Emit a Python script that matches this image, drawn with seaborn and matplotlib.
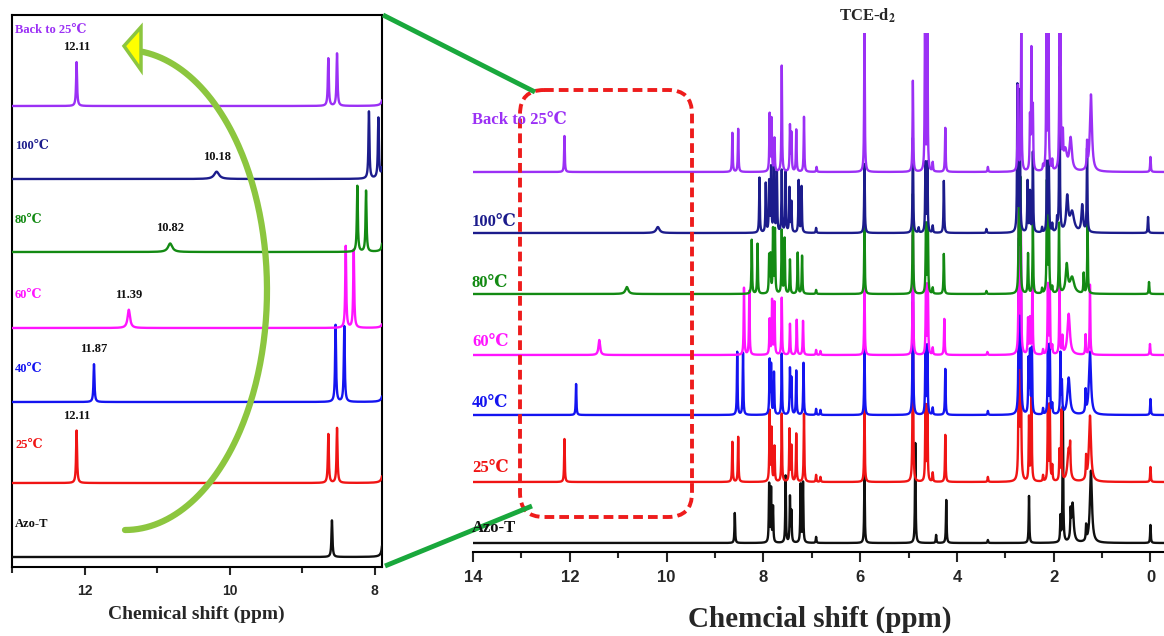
import numpy as np
import pandas as pd
import matplotlib
matplotlib.use("Agg")
import matplotlib.pyplot as plt
import seaborn as sns
from matplotlib.patches import FancyBboxPatch, Polygon
from matplotlib.ticker import MultipleLocator

# spectra, top to bottom
labels = ["Back to 25℃", "100℃", "80℃", "60℃", "40℃", "25℃", "Azo-T"]
colors = ["#9b30f5", "#1c1c8c", "#138a13", "#ff14ff", "#1414f0", "#f01414", "#101010"]

OFF = 520  # peak runs off the top of its trace

# peak positions (ppm) and heights (right-panel pixels above baseline)
back_ppm = [12.11, 8.64, 8.52, 7.87, 7.83, 7.77, 7.62, 7.45, 7.42, 7.32, 7.16, 6.90, 5.91, 4.91,
            4.66, 4.61, 4.50, 4.24, 3.36, 2.74, 2.67, 2.49, 2.46, 2.43, 2.22, 2.15, 2.11, 2.03,
            1.88, 1.86, 1.81, 1.76, 1.65, 1.31, 1.23, 0.00]
back_int = [36, 39, 43, 57, 52, 33, 106, 45, 37, 42, 55, 5, OFF, 91,
            OFF, OFF, 9, 44, 5, 85, OFF, 50, 118, 60, 5, OFF, OFF, 10,
            115, OFF, 30, 20, 32, 25, 77, 15]

t100_ppm = [10.18, 8.08, 7.95, 7.88, 7.84, 7.78, 7.72, 7.62, 7.54, 7.46, 7.42, 7.27, 7.21, 6.91,
            5.91, 4.91, 4.79, 4.65, 4.61, 4.50, 4.27, 3.39, 2.75, 2.70, 2.54, 2.49, 2.43, 2.24,
            2.14, 2.10, 2.03, 1.93, 1.88, 1.72, 1.62, 1.41, 1.31, 0.05]
t100_int = [6, 55, 49, 50, 64, 70, 60, 62, 60, 44, 30, 52, 46, 5,
            OFF, 95, 5, OFF, OFF, 7, 52, 4, 146, 140, 51, 40, 80, 5,
            OFF, OFF, 8, 12, 180, 34, 20, 27, 83, 16]

t80_ppm = [10.82, 8.24, 8.12, 7.88, 7.85, 7.80, 7.76, 7.62, 7.56, 7.45, 7.29, 7.20, 6.91, 5.91,
           4.91, 4.64, 4.60, 4.50, 4.27, 3.39, 2.72, 2.69, 2.53, 2.43, 2.24, 2.14, 2.10, 2.03,
           1.89, 1.73, 1.62, 1.38, 1.30, 0.03]
t80_int = [7, 54, 50, 37, 37, 63, 63, 63, 55, 34, 41, 38, 4, OFF,
           100, OFF, OFF, 6, 40, 3, 110, 110, 40, 70, 5, 110, 100, 6,
           70, 28, 16, 20, 70, 12]

t60_ppm = [11.39, 8.40, 8.29, 7.87, 7.82, 7.77, 7.62, 7.45, 7.31, 7.18, 6.91, 6.82, 5.91, 4.91,
           4.64, 4.60, 4.50, 4.26, 3.37, 2.72, 2.68, 2.53, 2.49, 2.44, 2.22, 2.12, 2.08, 2.03,
           1.88, 1.82, 1.69, 1.34, 1.25, 0.01]
t60_int = [15, 67, 64, 35, 54, 52, 57, 31, 35, 34, 5, 4, OFF, 120,
           OFF, OFF, 7, 36, 3, 150, 150, 35, 35, 80, 5, OFF, OFF, 8,
           70, 17, 41, 20, 70, 11]

t40_ppm = [11.87, 8.54, 8.42, 7.87, 7.84, 7.78, 7.62, 7.45, 7.42, 7.32, 7.17, 6.91, 6.82, 5.91,
           4.91, 4.65, 4.61, 4.50, 4.24, 3.36, 2.72, 2.68, 2.52, 2.49, 2.45, 2.22, 2.12, 2.08,
           2.03, 1.86, 1.83, 1.69, 1.34, 1.25, 0.00]
t40_int = [31, 63, 62, 53, 48, 42, 61, 45, 35, 44, 52, 6, 5, OFF,
           150, OFF, OFF, 7, 46, 4, 170, 170, 53, 60, 65, 6, OFF, OFF,
           10, 60, 30, 37, 22, 63, 16]

t25_ppm = [12.11, 8.64, 8.52, 7.87, 7.83, 7.77, 7.62, 7.46, 7.42, 7.32, 7.16, 6.91, 6.82, 5.91,
           4.91, 4.65, 4.61, 4.50, 4.24, 3.36, 2.72, 2.68, 2.51, 2.46, 2.22, 2.12, 2.08, 2.03,
           1.88, 1.84, 1.69, 1.66, 1.33, 1.25, 0.00]
t25_int = [43, 40, 45, 70, 52, 35, 68, 52, 35, 48, 68, 7, 5, OFF,
           180, OFF, OFF, 9, 47, 5, 200, 200, 63, 110, 6, OFF, OFF, 15,
           30, 70, 32, 25, 22, 66, 15]

azo_ppm = [8.59, 7.88, 7.84, 7.80, 7.54, 7.45, 7.42, 7.23, 7.18, 6.91, 5.91, 4.86, 4.43, 4.22,
           3.36, 2.51, 1.86, 1.81, 1.65, 1.61, 1.33, 1.23, 0.00]
azo_int = [30, 58, 53, 35, 67, 45, 30, 58, 60, 6, OFF, 100, 8, 43,
           3, 47, 25, 135, 25, 39, 15, 72, 18]

# broader lines (half width, ppm)
broad = {
    "Back to 25℃": {1.76: 0.04, 1.65: 0.03, 1.23: 0.025},
    "100℃": {10.18: 0.04, 1.72: 0.025, 1.62: 0.05, 1.41: 0.02},
    "80℃": {10.82: 0.035, 1.73: 0.025, 1.62: 0.05},
    "60℃": {11.39: 0.02, 1.69: 0.03},
    "40℃": {1.69: 0.03, 1.25: 0.025},
    "25℃": {1.69: 0.03, 1.25: 0.025},
    "Azo-T": {1.61: 0.025, 1.23: 0.025},
}

peak_ppm = [back_ppm, t100_ppm, t80_ppm, t60_ppm, t40_ppm, t25_ppm, azo_ppm]
peak_int = [back_int, t100_int, t80_int, t60_int, t40_int, t25_int, azo_int]

# layout (pixel units)
right_offsets = [380, 319, 258, 197, 137, 70, 9]
left_offsets = [461, 388, 315, 239, 165, 84, 10]
RIGHT_TOP = 519
LEFT_SCALE = 1.22
HWHM = 0.008


def spectrum(x, ppm, inten, widths, cap):
    y = np.zeros_like(x)
    for p, h in zip(ppm, inten):
        if h == OFF:
            h = cap
        w = widths.get(p, HWHM)
        y += h * w ** 2 / ((x - p) ** 2 + w ** 2)
    return y


sns.set_theme(style="white")
plt.rcParams["font.family"] = ["Liberation Serif", "DejaVu Serif", "Noto Sans CJK SC"]
plt.rcParams["mathtext.fontset"] = "stix"

fig = plt.figure(figsize=(11.64, 6.36), dpi=100)
W, H = 1164, 636

ax_l = fig.add_axes([12 / W, 1 - 567 / H, 370 / W, 552 / H])
ax_r = fig.add_axes([473 / W, 1 - 552 / H, 691 / W, 519 / H])

x_r = np.linspace(14.0, -0.28, 7141)
x_l = np.linspace(13.0, 7.9, 2551)

# bottom spectra first so upper traces sit on top
for i in reversed(range(len(labels))):
    w = broad[labels[i]]
    # off-scale lines run up to the trace above (top trace: past the axes top)
    above = RIGHT_TOP if i == 0 else right_offsets[i - 1]
    cap = above - right_offsets[i] + 8
    y_r = spectrum(x_r, peak_ppm[i], peak_int[i], w, cap) + right_offsets[i]
    sns.lineplot(x=x_r, y=y_r, ax=ax_r, color=colors[i], linewidth=1.7,
                 sort=False, estimator=None, zorder=10 - i)
    y_l = spectrum(x_l, peak_ppm[i], peak_int[i], w, cap) * LEFT_SCALE + left_offsets[i]
    sns.lineplot(x=x_l, y=y_l, ax=ax_l, color=colors[i], linewidth=1.7,
                 sort=False, estimator=None, zorder=10 - i)

tick_font = dict(family="Liberation Sans", weight="bold")

# right panel axes
ax_r.set_xlim(14.0, -0.28)
ax_r.set_ylim(0, RIGHT_TOP)
for s in ["top", "left", "right"]:
    ax_r.spines[s].set_visible(False)
ax_r.spines["bottom"].set_linewidth(1.5)
ax_r.spines["bottom"].set_color("black")
ax_r.xaxis.set_minor_locator(MultipleLocator(1))
ax_r.set_xticks([14, 12, 10, 8, 6, 4, 2, 0])
ax_r.set_xticklabels(["14", "12", "10", "8", "6", "4", "2", "0"], fontdict=tick_font)
ax_r.tick_params(axis="x", which="major", direction="out", length=7, width=1.5,
                 bottom=True, pad=6, labelsize=12)
ax_r.tick_params(axis="x", which="minor", direction="out", length=4, width=1.5, bottom=True)
ax_r.set_yticks([])
ax_r.set_xlabel("")
ax_r.set_ylabel("")

# left panel axes
ax_l.set_xlim(13.0, 7.9)
ax_l.set_ylim(0, 552)
for s in ax_l.spines.values():
    s.set_visible(True)
    s.set_linewidth(1.5)
    s.set_color("black")
ax_l.xaxis.set_minor_locator(MultipleLocator(1))
ax_l.set_xticks([12, 10, 8])
ax_l.set_xticklabels(["12", "10", "8"], fontdict=tick_font)
ax_l.tick_params(axis="x", which="major", direction="out", length=6, width=1.5,
                 bottom=True, pad=6, labelsize=10)
ax_l.tick_params(axis="x", which="minor", direction="out", length=4, width=1.5, bottom=True)
ax_l.set_yticks([])
ax_l.set_xlabel("")
ax_l.set_ylabel("")

# shift labels on the left panel
for i in range(len(labels) - 1):
    p, h = peak_ppm[i][0], peak_int[i][0]
    top = left_offsets[i] + h * LEFT_SCALE
    ax_l.text(p, top + 9, f"{p:.2f}", ha="center", va="bottom", fontsize=9,
              fontweight="bold", color="#111111")

# overlay in pixel coordinates
ov = fig.add_axes([0, 0, 1, 1], zorder=20)
ov.set_xlim(0, W)
ov.set_ylim(H, 0)
ov.axis("off")
ov.patch.set_alpha(0)

serif = ["Liberation Serif", "DejaVu Serif", "Noto Sans CJK SC"]
left_label_y = [30, 146, 220, 295, 369, 445, 524]
right_label_y = [120, 222, 283, 342, 403, 468, 528]
for i, lab in enumerate(labels):
    ov.text(15, left_label_y[i], lab, color=colors[i], fontsize=9, fontweight="bold",
            family=serif, ha="left", va="center")
    ov.text(472, right_label_y[i], lab, color=colors[i], fontsize=12, fontweight="bold",
            family=serif, ha="left", va="center")

ov.text(867, 16, r"TCE-d$\mathbf{_2}$", fontsize=12, fontweight="bold", ha="center",
        va="center", family=serif)
ov.text(196, 614, "Chemical shift (ppm)", fontsize=14, fontweight="bold", ha="center",
        va="center", family=serif)
ov.text(820, 619, "Chemcial shift (ppm)", fontsize=21, fontweight="bold", ha="center",
        va="center", family=serif)

# zoom connectors
green = "#19a83c"
ov.plot([383, 535], [15, 92], color=green, lw=3.5, solid_capstyle="butt")
ov.plot([385, 532], [566, 506], color=green, lw=3.5, solid_capstyle="butt")

box = FancyBboxPatch((520, 90), 172, 427, boxstyle="round,pad=0,rounding_size=24",
                     fill=False, ec="#ee1c1c", lw=2.8, ls=(0, (2.5, 1.3)))
ov.add_patch(box)

# curved arrow in the left panel
t = np.radians(np.linspace(-90, 83, 200))
ov.plot(125 + 142 * np.cos(t), 290 - 240 * np.sin(t), color="#8cc63f", lw=4.5,
        solid_capstyle="round")
ov.add_patch(Polygon([(124, 46), (141, 27), (141, 70)], closed=True, fc="#ffff00",
                     ec="#8cc63f", lw=2.5, zorder=5))

fig.savefig("out.png", dpi=100)
